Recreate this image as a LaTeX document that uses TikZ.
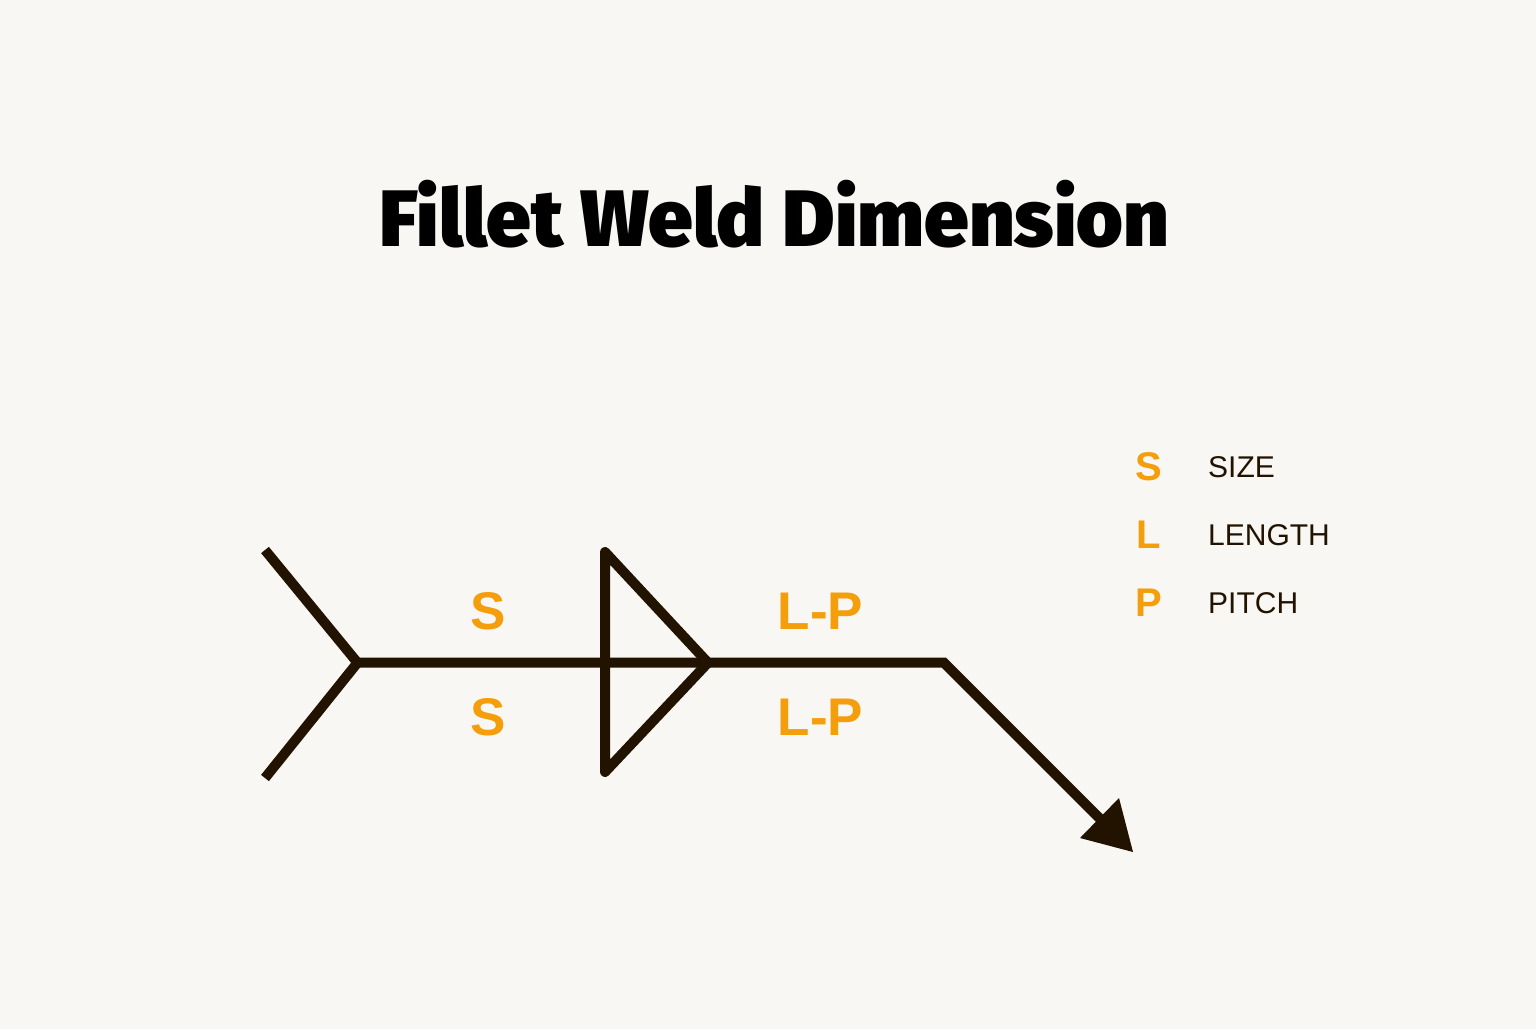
\documentclass[tikz,border=0pt]{standalone}
\usepackage{fontspec}
\setmainfont{Liberation Sans}
\newfontfamily\titlefont{Fira Sans Black}
\definecolor{bgc}{HTML}{F9F7F4}
\definecolor{ink}{HTML}{211300}
\definecolor{amber}{HTML}{F59E0B}
\tikzset{
  x=1pt,y=-1pt,
  weld/.style={draw=ink,line width=10pt,line cap=butt,line join=miter},
  dimtext/.style={text=amber,font=\fontsize{53}{53}\selectfont\bfseries,inner sep=0pt,anchor=center},
  keytext/.style={text=amber,font=\fontsize{40}{40}\selectfont\bfseries,inner sep=0pt,anchor=center},
  legtext/.style={text=ink,font=\fontsize{30}{30}\selectfont,inner sep=0pt,anchor=base west},
}
\begin{document}
\begin{tikzpicture}
\path[use as bounding box,fill=bgc] (0,0) rectangle (1536,1029);
\coordinate (tailup) at (265,550);
\coordinate (tailjoin) at (357.5,662.7);
\coordinate (taildown) at (265,778);
\coordinate (tritop) at (605,552);
\coordinate (tritip) at (708,662.7);
\coordinate (tribot) at (605,772);
\coordinate (bend) at (944,662.7);
\coordinate (arrowbase) at (1103,821.7);
\coordinate (heada) at (1119,798);
\coordinate (headb) at (1080,838);
\coordinate (headc) at (1133,852);
\draw[weld] (tailup) -- (tailjoin) -- (taildown);
\draw[weld] (tailjoin) -- (bend) -- (arrowbase);
\draw[weld,line join=round] (tritop) -- (tritip) -- (tribot) -- cycle;
\fill[ink] (heada) -- (headb) -- (headc) -- cycle;
\node[font=\titlefont\fontsize{80}{80}\selectfont,text=black,inner sep=0pt,anchor=base] (title) at (774.5,246) {Fillet Weld Dimension};
\node[dimtext] (s1) at (488,611) {S};
\node[dimtext] (s2) at (488,717) {S};
\node[dimtext] (lp1) at (820.5,611) {L-P};
\node[dimtext] (lp2) at (820.5,717) {L-P};
\node[keytext] (ks) at (1148.5,467) {S};
\node[keytext] (kl) at (1148.5,535) {L};
\node[keytext] (kp) at (1148.5,603) {P};
\node[legtext] (ls) at (1208,477.5) {SIZE};
\node[legtext] (ll) at (1208,545.5) {LENGTH};
\node[legtext] (lp) at (1208,613.5) {PITCH};
\end{tikzpicture}
\end{document}
